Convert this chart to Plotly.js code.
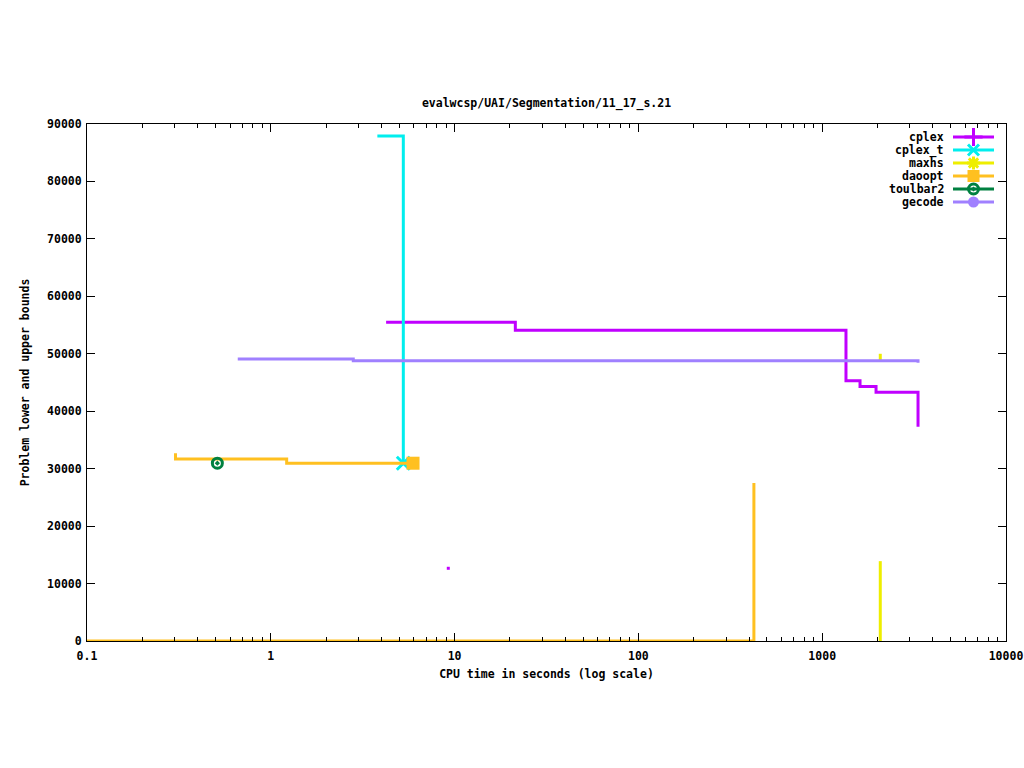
<!DOCTYPE html>
<html>
<head>
<meta charset="utf-8">
<script src="https://cdn.plot.ly/plotly-3.0.1.min.js"></script>
<style>html,body{margin:0;padding:0;background:#fff;}#chart{width:1024px;height:768px;}</style>
</head>
<body>
<div id="chart"></div>
<script>
// ---- data ----
const seriesNames = ["cplex", "cplex_t", "maxhs", "daoopt", "toulbar2", "gecode"];
const seriesColors = ["#c000ff", "#00eeee", "#eeee00", "#ffc020", "#008040", "#a080ff"];

const cplexUpperX = [4.24, 21.4, 1347, 1606, 1963, 3322];
const cplexUpperY = [55500, 54100, 45300, 44300, 43300, 37300];
const cplexLowerX = [9.24];
const cplexLowerY = [12660];

const cplexTUpperX = [3.80, 5.26];
const cplexTUpperY = [87900, 30950];

const maxhsUpperX = [2070, 2070];
const maxhsUpperY = [50000, 48700];
const maxhsLowerX = [2070, 2070];
const maxhsLowerY = [0, 13900];

const daooptUpperX = [0.303, 0.303, 1.22, 5.94];
const daooptUpperY = [32700, 31700, 30950, 30950];
const daooptLowerX = [0.1, 425, 425];
const daooptLowerY = [0, 0, 27500];

const toulbar2X = [0.512];
const toulbar2Y = [30950];

const gecodeUpperX = [0.661, 2.81, 3322, 3322];
const gecodeUpperY = [49100, 48800, 48800, 48450];

const xTickVals = [0.1, 1, 10, 100, 1000, 10000];
const xTickText = ["0.1", "1", "10", "100", "1000", "10000"];
const yTickVals = [0, 10000, 20000, 30000, 40000, 50000, 60000, 70000, 80000, 90000];

// ---- styles ----
const FONT = {family: '"DejaVu Sans Mono", "Liberation Mono", monospace', size: 11.5, color: '#000', weight: 'bold'};
const LW = 3;
const symbols = ["cross-thin", "x-thin", "asterisk", "square", "circle-open-dot", "circle"];
const symSizes = [13, 11, 11, 12, 10, 11];
const lineSyms = ["cross-thin", "x-thin", "asterisk", "circle-open-dot"];

const minorVals = [];
for (let d = -1; d < 4; d++) for (let k = 2; k <= 9; k++) minorVals.push(k * Math.pow(10, d));

function markerOf(i, size) {
  return {symbol: symbols[i], size: size || symSizes[i], color: seriesColors[i],
          line: {color: seriesColors[i], width: lineSyms.includes(symbols[i]) ? LW : 0}};
}
function last(a) { return [a[a.length - 1]]; }

const traces = [
  {x: cplexUpperX, y: cplexUpperY, mode: 'lines', line: {color: seriesColors[0], width: LW, shape: 'hv'}},
  {x: cplexLowerX, y: cplexLowerY, mode: 'markers', marker: {color: seriesColors[0], size: 3, symbol: 'square', line: {width: 0}}},
  {x: cplexTUpperX, y: cplexTUpperY, mode: 'lines', line: {color: seriesColors[1], width: LW, shape: 'hv'}},
  {x: last(cplexTUpperX), y: last(cplexTUpperY), mode: 'markers', marker: markerOf(1, 13)},
  {x: maxhsUpperX, y: maxhsUpperY, mode: 'lines', line: {color: seriesColors[2], width: LW, shape: 'hv'}},
  {x: maxhsLowerX, y: maxhsLowerY, mode: 'lines', line: {color: seriesColors[2], width: LW, shape: 'hv'}},
  {x: daooptUpperX, y: daooptUpperY, mode: 'lines', line: {color: seriesColors[3], width: LW, shape: 'hv'}},
  {x: last(daooptUpperX), y: last(daooptUpperY), mode: 'markers', marker: markerOf(3, 13)},
  {x: daooptLowerX, y: daooptLowerY, mode: 'lines', line: {color: seriesColors[3], width: LW, shape: 'hv'}},
  {x: toulbar2X, y: toulbar2Y, mode: 'markers', marker: markerOf(4, 10)},
  {x: gecodeUpperX, y: gecodeUpperY, mode: 'lines', line: {color: seriesColors[5], width: LW, shape: 'hv'}}
];
traces.forEach(t => { t.showlegend = false; t.hoverinfo = 'skip'; t.cliponaxis = false; });

// ---- hand-built legend (gnuplot style: text right-aligned, sample on the right) ----
const annotations = [];
const legTextX = 946, legLineX0 = 953, legLineX1 = 994, legY0 = 137, legDY = 13;
seriesNames.forEach((name, i) => {
  const y = legY0 + i * legDY;
  traces.push({x: [legLineX0, legLineX1], y: [y, y], xaxis: 'x2', yaxis: 'y2', mode: 'lines',
    line: {color: seriesColors[i], width: LW}, showlegend: false, hoverinfo: 'skip'});
  traces.push({x: [(legLineX0 + legLineX1) / 2], y: [y], xaxis: 'x2', yaxis: 'y2', mode: 'markers',
    marker: markerOf(i), showlegend: false, hoverinfo: 'skip'});
  annotations.push({x: legTextX, y: y, xref: 'x2', yref: 'y2', text: name, showarrow: false,
    xanchor: 'right', yanchor: 'middle', font: FONT});
});

const layout = {
  width: 1024, height: 768,
  margin: {l: 87, r: 18, t: 124, b: 127, pad: 0},
  paper_bgcolor: '#fff', plot_bgcolor: '#fff',
  showlegend: false,
  font: FONT,
  title: {text: 'evalwcsp/UAI/Segmentation/11_17_s.21', font: FONT, x: 0.5, xref: 'paper',
          y: 1 - 103 / 768, yref: 'container', yanchor: 'middle'},
  xaxis: {type: 'log', range: [-1, 4], tickmode: 'array', tickvals: xTickVals, ticktext: xTickText,
          ticks: 'inside', ticklen: 8, tickwidth: 1, tickcolor: '#000', ticklabelstandoff: 4,
          showline: true, linecolor: '#000', linewidth: 1, mirror: 'ticks',
          showgrid: false, zeroline: false, tickfont: FONT,
          minor: {tickmode: 'array', tickvals: minorVals, ticks: 'inside', ticklen: 4, tickwidth: 1, tickcolor: '#000', showgrid: false},
          title: {text: 'CPU time in seconds (log scale)', font: FONT, standoff: 8}},
  yaxis: {range: [0, 90000], tickmode: 'array', tickvals: yTickVals, tickformat: 'd',
          ticks: 'inside', ticklen: 8, tickwidth: 1, tickcolor: '#000', ticklabelstandoff: 2,
          showline: true, linecolor: '#000', linewidth: 1, mirror: 'ticks',
          showgrid: false, zeroline: false, tickfont: FONT,
          title: {text: 'Problem lower and upper bounds', font: FONT, standoff: 15}},
  xaxis2: {overlaying: 'x', range: [87, 1006], visible: false, fixedrange: true},
  yaxis2: {overlaying: 'y', range: [641, 124], visible: false, fixedrange: true},
  annotations: annotations
};

Plotly.newPlot('chart', traces, layout, {displayModeBar: false, staticPlot: true});
</script>
</body>
</html>
